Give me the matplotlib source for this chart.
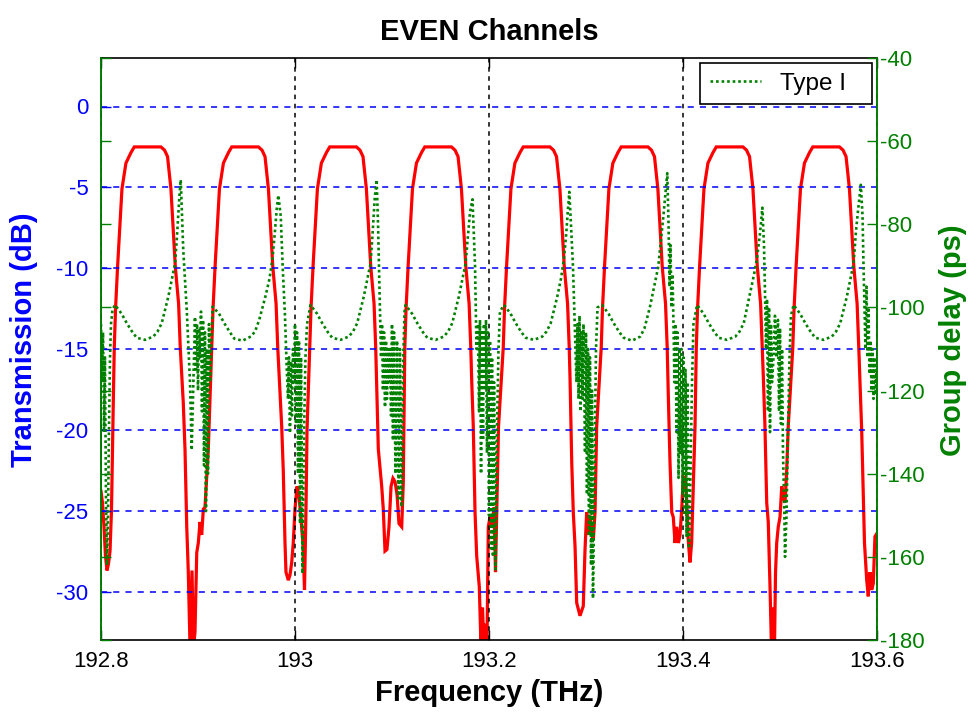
import matplotlib
matplotlib.use("Agg")
import matplotlib.pyplot as plt

plt.rcParams['font.family'] = ['Liberation Sans', 'DejaVu Sans']

# ---------------- data ----------------
trans_freq = [
    192.8000, 192.8015, 192.8031, 192.8046, 192.8062, 192.8077, 192.8093, 192.8108, 192.8119, 192.8129,
    192.8137, 192.8150, 192.8171, 192.8193, 192.8216, 192.8257, 192.8309, 192.8343, 192.8618, 192.8655,
    192.8686, 192.8721, 192.8745, 192.8766, 192.8800, 192.8817,
    192.8848, 192.8866, 192.8884, 192.8900, 192.8918, 192.8938, 192.8954, 192.8969, 192.8987, 192.9003,
    192.9021, 192.9038, 192.9055, 192.9072, 192.9106,
    192.9142, 192.9155, 192.9176, 192.9198, 192.9221, 192.9262, 192.9314, 192.9348, 192.9623, 192.9660,
    192.9691, 192.9726, 192.9750, 192.9771, 192.9805, 192.9822,
    192.9863, 192.9879, 192.9897, 192.9907, 192.9931, 192.9948, 192.9966, 192.9982, 193.0000, 193.0021,
    193.0041, 193.0062, 193.0082, 193.0098, 193.0113, 193.0124,
    193.0152, 193.0165, 193.0186, 193.0208, 193.0231, 193.0272, 193.0324, 193.0358, 193.0633, 193.0670,
    193.0701, 193.0736, 193.0760, 193.0781, 193.0815, 193.0832,
    193.0859, 193.0894, 193.0910, 193.0928, 193.0948, 193.0969, 193.0990, 193.1010, 193.1031, 193.1052,
    193.1072, 193.1100, 193.1116,
    193.1132, 193.1145, 193.1166, 193.1188, 193.1211, 193.1252, 193.1304, 193.1338, 193.1613, 193.1650,
    193.1681, 193.1716, 193.1740, 193.1761, 193.1795, 193.1812,
    193.1822, 193.1838, 193.1856, 193.1873, 193.1900, 193.1918, 193.1933, 193.1948, 193.1964, 193.1979,
    193.1993, 193.2010, 193.2031, 193.2052, 193.2067, 193.2082, 193.2098,
    193.2147, 193.2160, 193.2181, 193.2203, 193.2226, 193.2267, 193.2319, 193.2353, 193.2628, 193.2665,
    193.2696, 193.2731, 193.2755, 193.2776, 193.2810, 193.2827,
    193.2835, 193.2853, 193.2869, 193.2887, 193.2904, 193.2938, 193.2972, 193.2990, 193.3007, 193.3026,
    193.3041, 193.3059, 193.3075, 193.3093, 193.3110,
    193.3157, 193.3170, 193.3191, 193.3213, 193.3236, 193.3277, 193.3329, 193.3363, 193.3638, 193.3675,
    193.3706, 193.3741, 193.3765, 193.3786, 193.3820, 193.3837,
    193.3849, 193.3866, 193.3884, 193.3900, 193.3918, 193.3935, 193.3953, 193.3969, 193.3987, 193.4003,
    193.4021, 193.4038, 193.4054, 193.4072, 193.4089, 193.4106, 193.4124,
    193.4137, 193.4150, 193.4171, 193.4193, 193.4216, 193.4257, 193.4309, 193.4343, 193.4618, 193.4655,
    193.4686, 193.4721, 193.4745, 193.4766, 193.4800, 193.4817,
    193.4828, 193.4845, 193.4863, 193.4879, 193.4897, 193.4912, 193.4928, 193.4943, 193.4954, 193.4966,
    193.4982, 193.5000, 193.5018, 193.5034, 193.5052, 193.5069, 193.5085,
    193.5132, 193.5145, 193.5166, 193.5188, 193.5211, 193.5252, 193.5304, 193.5338, 193.5613, 193.5650,
    193.5681, 193.5716, 193.5740, 193.5761, 193.5795, 193.5812,
    193.5842, 193.5859, 193.5871, 193.5894, 193.5910, 193.5928, 193.5945, 193.5962, 193.5979, 193.6000,
]
trans_db = [
    -23.8, -24.5, -26.0, -27.8, -28.7, -28.3, -27.5, -25.0, -21.0, -17.5,
    -14.9, -12.5, -9.9, -7.5, -5.1, -3.5, -2.85, -2.5, -2.5, -2.7,
    -3.1, -5.1, -7.6, -9.9, -12.2, -14.9,
    -18.3, -21.2, -26.0, -28.8, -33.5, -28.7, -33.5, -32.5, -27.6, -27.0,
    -25.7, -26.5, -24.9, -24.8, -21.2,
    -14.9, -12.5, -9.9, -7.5, -5.1, -3.5, -2.85, -2.5, -2.5, -2.7,
    -3.1, -5.1, -7.6, -9.9, -12.2, -14.9,
    -19.8, -22.5, -27.0, -28.8, -29.3, -29.0, -28.2, -27.0, -24.9, -23.5,
    -24.0, -25.5, -27.0, -29.9, -25.0, -20.0,
    -14.9, -12.5, -9.9, -7.5, -5.1, -3.5, -2.85, -2.5, -2.5, -2.7,
    -3.1, -5.1, -7.6, -9.9, -12.2, -14.9,
    -21.2, -23.5, -24.9, -27.5, -27.4, -26.0, -23.5, -23.0, -23.2, -24.0,
    -25.8, -26.0, -23.3,
    -14.9, -12.5, -9.9, -7.5, -5.1, -3.5, -2.85, -2.5, -2.5, -2.7,
    -3.1, -5.1, -7.6, -9.9, -12.2, -14.9,
    -17.0, -19.8, -25.1, -27.8, -29.7, -33.5, -31.0, -33.5, -32.0, -33.5,
    -26.0, -25.4, -26.0, -24.8, -28.8, -24.5, -19.8,
    -14.9, -12.5, -9.9, -7.5, -5.1, -3.5, -2.85, -2.5, -2.5, -2.7,
    -3.1, -5.1, -7.6, -9.9, -12.2, -14.9,
    -16.7, -22.0, -25.1, -27.2, -30.7, -31.5, -30.9, -27.4, -25.1, -26.5,
    -25.3, -26.5, -26.8, -25.1, -19.8,
    -14.9, -12.5, -9.9, -7.5, -5.1, -3.5, -2.85, -2.5, -2.5, -2.7,
    -3.1, -5.1, -7.6, -9.9, -12.2, -14.9,
    -18.0, -22.0, -25.1, -25.4, -27.0, -26.0, -27.0, -26.5, -24.9, -22.9,
    -23.0, -24.3, -26.8, -28.2, -27.0, -23.5, -19.8,
    -14.9, -12.5, -9.9, -7.5, -5.1, -3.5, -2.85, -2.5, -2.5, -2.7,
    -3.1, -5.1, -7.6, -9.9, -12.2, -14.9,
    -16.7, -19.8, -24.5, -25.7, -29.7, -33.5, -31.0, -33.5, -28.8, -27.0,
    -26.0, -25.4, -23.5, -24.2, -24.5, -22.5, -19.8,
    -14.9, -12.5, -9.9, -7.5, -5.1, -3.5, -2.85, -2.5, -2.5, -2.7,
    -3.1, -5.1, -7.6, -9.9, -12.2, -14.9,
    -20.0, -24.0, -27.0, -29.3, -30.3, -28.8, -29.9, -29.5, -26.6, -26.4,
]

delay_freq = [
    192.8000, 192.8010, 192.8021, 192.8031, 192.8041, 192.8052, 192.8062, 192.8072, 192.8082, 192.8093,
    192.8103, 192.8119,
    192.8145, 192.8212, 192.8266, 192.8325, 192.8369, 192.8454, 192.8540, 192.8583, 192.8626, 192.8694,
    192.8733, 192.8764, 192.8787, 192.8808, 192.8822,
    192.8848, 192.8884, 192.8918, 192.8935, 192.8952, 192.8969, 192.8979, 192.8990, 192.9000, 192.9010,
    192.9021, 192.9031, 192.9041, 192.9052, 192.9062, 192.9072, 192.9082, 192.9093, 192.9103, 192.9113,
    192.9124,
    192.9150, 192.9217, 192.9271, 192.9330, 192.9374, 192.9459, 192.9545, 192.9588, 192.9631, 192.9699,
    192.9738, 192.9769, 192.9792, 192.9813, 192.9828,
    192.9853, 192.9873, 192.9897, 192.9914, 192.9928, 192.9938, 192.9948, 192.9959, 192.9969, 192.9979,
    192.9990, 193.0000, 193.0010, 193.0021, 193.0031, 193.0041, 193.0052, 193.0062, 193.0077, 193.0093,
    193.0108, 193.0124,
    193.0160, 193.0227, 193.0281, 193.0340, 193.0384, 193.0469, 193.0555, 193.0598, 193.0641, 193.0709,
    193.0748, 193.0779, 193.0802, 193.0823, 193.0842,
    193.0856, 193.0876, 193.0887, 193.0897, 193.0907, 193.0918, 193.0928, 193.0938, 193.0948, 193.0959,
    193.0969, 193.0979, 193.0990, 193.1000, 193.1010, 193.1021, 193.1036, 193.1052, 193.1067, 193.1082,
    193.1098, 193.1113, 193.1129,
    193.1140, 193.1207, 193.1261, 193.1320, 193.1364, 193.1449, 193.1535, 193.1578, 193.1621, 193.1689,
    193.1728, 193.1759, 193.1782, 193.1805, 193.1830,
    193.1856, 193.1871, 193.1887, 193.1897, 193.1907, 193.1918, 193.1928, 193.1938, 193.1948, 193.1959,
    193.1969, 193.1979, 193.1990, 193.2000, 193.2010, 193.2021, 193.2031, 193.2041, 193.2052, 193.2067,
    193.2082, 193.2098, 193.2113,
    193.2155, 193.2222, 193.2276, 193.2335, 193.2379, 193.2464, 193.2550, 193.2593, 193.2636, 193.2704,
    193.2743, 193.2774, 193.2797, 193.2812, 193.2828,
    193.2845, 193.2866, 193.2887, 193.2902, 193.2912, 193.2923, 193.2933, 193.2943, 193.2954, 193.2964,
    193.2974, 193.2990, 193.3000, 193.3010, 193.3021, 193.3031, 193.3041, 193.3052, 193.3062, 193.3072,
    193.3088, 193.3103, 193.3119,
    193.3165, 193.3232, 193.3286, 193.3345, 193.3389, 193.3474, 193.3560, 193.3603, 193.3660, 193.3745,
    193.3797, 193.3838,
    193.3851, 193.3861, 193.3871, 193.3881, 193.3892, 193.3902, 193.3912, 193.3923, 193.3933, 193.3943,
    193.3954, 193.3964, 193.3974, 193.3985, 193.3995, 193.4005, 193.4015, 193.4026, 193.4036, 193.4046,
    193.4062, 193.4077, 193.4093, 193.4108,
    193.4145, 193.4212, 193.4266, 193.4325, 193.4369, 193.4454, 193.4540, 193.4583, 193.4626, 193.4691,
    193.4733, 193.4764, 193.4777, 193.4795, 193.4818,
    193.4835, 193.4845, 193.4856, 193.4866, 193.4876, 193.4887, 193.4897, 193.4907, 193.4918, 193.4933,
    193.4948, 193.4964, 193.4979, 193.4990, 193.5000, 193.5010, 193.5021, 193.5031, 193.5041, 193.5052,
    193.5067, 193.5082, 193.5098, 193.5113,
    193.5140, 193.5207, 193.5261, 193.5320, 193.5364, 193.5449, 193.5535, 193.5578, 193.5621, 193.5689,
    193.5728, 193.5759, 193.5782, 193.5803, 193.5833,
    193.5851, 193.5861, 193.5871, 193.5881, 193.5892, 193.5902, 193.5912, 193.5923, 193.5933, 193.5943,
    193.5954, 193.5964, 193.5974, 193.5985, 193.5995, 193.6000,
]
delay_ps = [
    -104, -118, -106, -130, -112, -148, -162, -150, -130, -112,
    -104, -100.5,
    -99.4, -101.5, -103.8, -106.0, -107.3, -107.8, -107.0, -105.8, -103.8, -97.4,
    -93.0, -89.4, -81.4, -73.4, -69.3,
    -86.2, -100.6, -118.2, -134.3, -118.0, -102.3, -115, -104, -120, -105,
    -112, -101, -125, -103, -138, -106, -149, -110, -140, -104,
    -118,
    -99.8, -101.5, -103.8, -106.0, -107.5, -108.0, -107.0, -105.8, -103.0, -97.0,
    -93.0, -88.0, -82.0, -76.0, -73.0,
    -78, -90.2, -102.2, -114.2, -122, -112, -130.2, -113, -126, -110,
    -118, -104, -128, -106, -140, -108, -152, -112, -164, -130,
    -112, -104,
    -99.4, -101.5, -103.8, -106.0, -107.3, -107.8, -107.0, -105.8, -103.8, -97.4,
    -93.0, -89.4, -81.4, -73.4, -69.3,
    -80, -100, -112, -104, -120, -106, -124, -108, -122, -110,
    -118, -110, -126, -104, -132, -106, -140, -108, -146, -110,
    -148, -115, -101,
    -99.4, -101.5, -103.8, -106.0, -107.3, -107.8, -107.0, -105.8, -103.8, -97.4,
    -93.0, -89.4, -83.0, -77.0, -74.0,
    -90, -110, -104, -125, -103, -140, -106, -132, -104, -120,
    -103, -135, -106, -150, -108, -158, -112, -160, -118, -163,
    -130, -110, -101,
    -99.4, -101.5, -103.8, -106.0, -107.3, -107.8, -107.0, -105.8, -103.8, -97.4,
    -93.0, -88.0, -82.0, -77.0, -72.2,
    -80, -90.3, -106, -118, -104, -122, -102, -125, -106, -122,
    -104, -135, -106, -145, -110, -155, -112, -162, -120, -170,
    -140, -110, -100,
    -99.4, -101.5, -103.8, -106.0, -107.3, -108.0, -107.0, -105.0, -99.8, -90.2,
    -78.2, -67.7,
    -80, -95, -85, -100, -92, -104, -118, -104, -130, -106,
    -141, -110, -135, -110, -145, -112, -150, -115, -155, -118,
    -158, -140, -118, -104,
    -99.4, -101.5, -103.8, -106.0, -107.3, -107.8, -107.0, -105.8, -103.8, -96.6,
    -92.0, -88.0, -85.4, -82.0, -76.0,
    -85, -96, -110, -98, -125, -100, -130, -104, -118, -112,
    -102, -112, -103, -125, -105, -128, -110, -135, -145, -160,
    -150, -130, -112, -102,
    -99.4, -101.5, -103.8, -106.0, -107.3, -107.8, -107.0, -105.8, -103.8, -97.4,
    -93.0, -89.4, -82.0, -77.0, -70.5,
    -78, -90, -100, -110, -95, -112, -100, -116, -108, -120,
    -110, -122, -112, -121, -115, -118,
]

x_ticks = [192.8, 193.0, 193.2, 193.4, 193.6]
x_tick_labels = ['192.8', '193', '193.2', '193.4', '193.6']
left_ticks = [0, -5, -10, -15, -20, -25, -30]
left_tick_labels = ['0', '-5', '-10', '-15', '-20', '-25', '-30']
right_ticks = [-40, -60, -80, -100, -120, -140, -160, -180]
right_tick_labels = ['-40', '-60', '-80', '-100', '-120', '-140', '-160', '-180']

# ---------------- figure ----------------
W, H = 976, 715
fig = plt.figure(figsize=(W / 100, H / 100), dpi=100)
ax1 = fig.add_axes([101 / W, 1 - 640 / H, 776 / W, 582 / H])
ax2 = ax1.twinx()

BLUE = '#0000ff'
GREEN = '#008000'

ax1.plot(trans_freq, trans_db, color='#ff0000', lw=2.3, solid_joinstyle='miter')
ax2.plot(delay_freq, delay_ps, color=GREEN, lw=1.9, ls=(0, (1, 1.1)),
         dash_capstyle='butt', label='Type I')

ax1.set_xlim(192.8, 193.6)
ax1.set_ylim(-33, 3)
ax2.set_ylim(-180, -40)

ax1.set_xticks(x_ticks)
ax1.set_xticklabels(x_tick_labels)
ax1.set_yticks(left_ticks)
ax1.set_yticklabels(left_tick_labels)
ax2.set_yticks(right_ticks)
ax2.set_yticklabels(right_tick_labels)

# grids
ax1.yaxis.grid(True, color=BLUE, ls=(0, (4, 4)), lw=1.1)
ax1.xaxis.grid(True, color='black', ls=(0, (3, 3)), lw=1.1)
ax1.set_axisbelow(False)

# ticks
ax1.tick_params(axis='x', direction='in', length=7, width=1, colors='black',
                labelsize=16, pad=8, top=True)
ax1.tick_params(axis='y', direction='in', length=7, width=1, colors=BLUE,
                labelsize=16, pad=9)
ax2.tick_params(axis='y', direction='in', length=7, width=1, colors=GREEN,
                labelsize=16, pad=2, left=True, right=True)

# spines
for s in ['top', 'bottom']:
    ax1.spines[s].set_color('black')
    ax2.spines[s].set_visible(False)
ax2.spines['left'].set_color(GREEN)
ax2.spines['right'].set_color(GREEN)
ax1.spines['left'].set_color(GREEN)
ax1.spines['right'].set_color(GREEN)
for s in ax1.spines.values():
    s.set_linewidth(1.2)
for s in ax2.spines.values():
    s.set_linewidth(1.2)

# labels
ax1.set_title('EVEN Channels', fontsize=21, fontweight='bold', pad=13)
ax1.set_xlabel('Frequency (THz)', fontsize=21, fontweight='bold')
ax1.xaxis.set_label_coords(0.5, (640 - 679) / 582)
ax1.set_ylabel('Transmission (dB)', fontsize=21, fontweight='bold', color=BLUE)
ax1.yaxis.set_label_coords((38 - 101) / 776, (640 - 340) / 582)
ax2.set_ylabel('Group delay (ps)', fontsize=21, fontweight='bold', color=GREEN)
ax2.yaxis.set_label_coords((939 - 101) / 776, (640 - 340) / 582)

# legend
leg = ax2.legend(loc='upper right',
                 bbox_to_anchor=((700 - 101) / 776, 0.5, (872 - 700) / 776, (640 - 63) / 582 - 0.5),
                 mode='expand', borderaxespad=0, fontsize=17.5, frameon=True,
                 fancybox=False, edgecolor='black', framealpha=1,
                 handlelength=2.1, handletextpad=0.8, borderpad=0.4)
leg.get_frame().set_linewidth(1.2)

fig.savefig('out.png', dpi=100)
